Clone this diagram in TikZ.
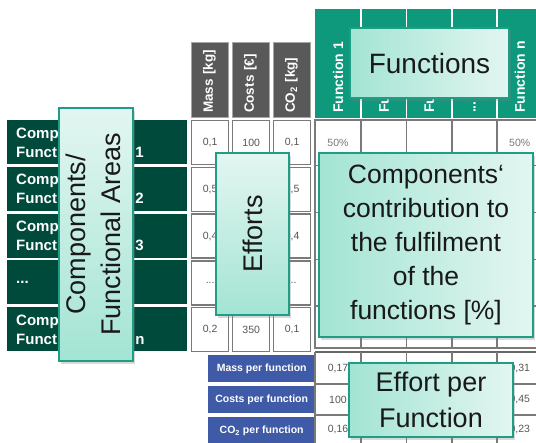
\documentclass[tikz,border=0pt]{standalone}
\usepackage{fontspec}
\setmainfont{Liberation Sans}
\usetikzlibrary{shadows}
\definecolor{dkgreen}{HTML}{004A3C}
\definecolor{tealhead}{HTML}{0E987C}
\definecolor{mintL}{HTML}{A3E4D3}
\definecolor{mintR}{HTML}{E3F6F1}
\definecolor{callborder}{HTML}{1E9E84}
\definecolor{grayhead}{HTML}{595959}
\definecolor{bluehead}{HTML}{3F5AA6}
\definecolor{gridgray}{HTML}{7A7A7A}
\definecolor{valgray}{HTML}{555555}
\begin{document}
\begin{tikzpicture}[x=1pt,y=-1pt,
  rowhead/.style={rectangle, fill=dkgreen, minimum width=180pt, minimum height=44pt,
    text width=162pt, inner xsep=9pt, inner ysep=0pt, align=left, text=white,
    font=\bfseries\fontsize{15}{19}\selectfont, anchor=north west},
  ecell/.style={rectangle, draw=gridgray, line width=1.4pt, fill=white,
    minimum width=37pt, minimum height=44pt, inner sep=0pt, anchor=north west,
    text=valgray, font=\fontsize{10.5}{12}\selectfont},
  ghead/.style={rectangle, fill=grayhead, draw=gray!70, line width=0.6pt, rotate=90,
    minimum width=75pt, minimum height=37pt, text width=67pt, inner xsep=4pt,
    inner ysep=0pt, align=left, text=white, font=\bfseries\fontsize{13.5}{15}\selectfont},
  flabel/.style={rectangle, rotate=90, minimum width=109pt, minimum height=40pt,
    text width=99pt, inner xsep=5pt, inner ysep=0pt, align=left, text=white,
    font=\bfseries\fontsize{14}{16}\selectfont},
  gridline/.style={draw=gridgray, line width=1.4pt},
  val/.style={text=valgray, inner sep=0pt, font=\fontsize{10.5}{12}\selectfont},
  bhead/.style={rectangle, fill=bluehead, minimum width=107pt, minimum height=27pt,
    inner sep=0pt, anchor=north west, text=white, font=\bfseries\fontsize{10.5}{12}\selectfont},
  callout/.style={rectangle, draw=callborder, line width=2pt, inner sep=0pt, align=center,
    text=black!90, font=\fontsize{27}{35}\selectfont,
    drop shadow={opacity=0.3, shadow xshift=2pt, shadow yshift=-3pt}},
  hcall/.style={callout, left color=mintL, right color=mintR},
  vcall/.style={callout, bottom color=mintL, top color=mintR}
]
\useasboundingbox (0,0) rectangle (536,443);
\clip (0,0) rectangle (536,443);

% left row headers
\node[rowhead] (r1) at (7,120)    {Component/\\Functional Area 1};
\node[rowhead] (r2) at (7,166.75) {Component/\\Functional Area 2};
\node[rowhead] (r3) at (7,213.5)  {Component/\\Functional Area 3};
\node[rowhead] (r4) at (7,260.25) {...};
\node[rowhead] (r5) at (7,307)    {Component/\\Functional Area n};

% effort headers
\node[ghead] (gh1) at (209.5,79.5) {Mass [kg]};
\node[ghead] (gh2) at (250.5,79.5) {Costs [€]};
\node[ghead] (gh3) at (291.5,79.5) {CO\textsubscript{2} [kg]};

% effort cells
\node[ecell] (e11) at (191,120) {0,1};
\node[ecell] (e12) at (232,120) {100};
\node[ecell] (e13) at (273,120) {0,1};
\node[ecell] (e21) at (191,166.75) {0,5};
\node[ecell] (e22) at (232,166.75) {};
\node[ecell] (e23) at (273,166.75) {0,5};
\node[ecell] (e31) at (191,213.5) {0,4};
\node[ecell] (e32) at (232,213.5) {};
\node[ecell] (e33) at (273,213.5) {0,4};
\node[ecell] (e41) at (191,260.25) {...};
\node[ecell] (e42) at (232,260.25) {};
\node[ecell] (e43) at (273,260.25) {...};
\node[ecell] (e51) at (191,307) {0,2};
\node[ecell] (e52) at (232,307) {350};
\node[ecell] (e53) at (273,307) {0,1};

% function header
\node[rectangle, fill=tealhead, minimum width=230pt, minimum height=109pt, inner sep=0pt,
  anchor=north west] (fh) at (315,9) {};
\foreach \x in {361,406.5,452,497}
  \draw[white, line width=1.5pt] (\x,9) -- (\x,118);
\node[flabel] (fl1) at (338,63.5)    {Function 1};
\node[flabel] (fl2) at (383.75,63.5) {Function 2};
\node[flabel] (fl3) at (429.25,63.5) {Function 3};
\node[flabel] (fl4) at (474.5,63.5)  {...};
\node[flabel] (fl5) at (519.75,63.5) {Function n};

% function grid
\draw[gridline] (315,120) rectangle (545,348);
\foreach \y in {165.5,212.5,259.5,306}
  \draw[gridline] (315,\y) -- (545,\y);
\foreach \x in {361,406.5,452,497}
  \draw[gridline] (\x,120) -- (\x,348);
\node[val, text=valgray!80] (p1) at (338,143) {50\%};
\node[val, text=valgray!80] (p5) at (519.75,143) {50\%};

% bottom section
\node[bhead] (b1) at (208,355) {Mass per function};
\node[bhead] (b2) at (208,386) {Costs per function};
\node[bhead, minimum height=28pt] (b3) at (208,417) {CO\textsubscript{2} per function};
\draw[draw=gray!80!black, line width=2pt] (315,352) -- (545,352);
\foreach \y in {384,415}
  \draw[gridline] (315,\y) -- (545,\y);
\foreach \x in {315,361,406.5,452,497}
  \draw[gridline] (\x,352) -- (\x,445);
\node[val] (v11) at (338,369) {0,17};
\node[val] (v21) at (338,400) {100};
\node[val] (v31) at (338,430) {0,16};
\node[val] (v15) at (519.75,369) {0,31};
\node[val] (v25) at (519.75,400) {0,45};
\node[val] (v35) at (519.75,430) {0,23};

% callouts
\node[vcall, minimum width=74pt, minimum height=253pt] (cComp) at (96,234.5)
  {\rotatebox{90}{\begin{tabular}{@{}c@{}}Components/\\Functional Areas\end{tabular}}};
\node[vcall, minimum width=73pt, minimum height=162pt] (cEff) at (252.5,234)
  {\rotatebox{90}{Efforts}};
\node[hcall, minimum width=159pt, minimum height=70pt, font=\fontsize{28}{35}\selectfont]
  (cFun) at (429.5,63) {Functions};
\node[hcall, minimum width=214pt, minimum height=184pt, font=\fontsize{26.5}{34}\selectfont]
  (cContrib) at (426,245)
  {Components‘\\contribution to\\the fulfilment\\of the\\functions [\%]};
\node[hcall, minimum width=164pt, minimum height=74pt, font=\fontsize{27}{36}\selectfont]
  (cEpf) at (431,400) {Effort per\\Function};
\end{tikzpicture}
\end{document}
